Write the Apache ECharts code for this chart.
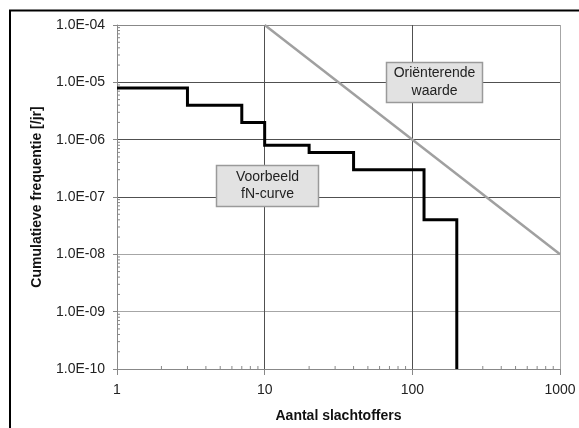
<!DOCTYPE html>
<html>
<head>
<meta charset="utf-8">
<script src="https://cdn.jsdelivr.net/npm/echarts@6/dist/echarts.min.js"></script>
<style>html,body{margin:0;padding:0;background:#fff;}#c{width:579px;height:428px;}</style>
</head>
<body>
<div id="c"></div>
<script>
// Data
var fnCurveX = [1, 3, 7, 10, 20, 40, 120, 200];
var fnCurveY = [8e-6, 4e-6, 2e-6, 8e-7, 6e-7, 3e-7, 4e-8, 1e-10];
var refLineX = [10, 1000];
var refLineY = [1e-4, 1e-8];
var xDecades = [1, 10, 100];
var yDecades = [1e-10, 1e-9, 1e-8, 1e-7, 1e-6, 1e-5];
var minorMultipliers = [2, 3, 4, 5, 6, 7, 8, 9];
var xTitle = 'Aantal slachtoffers';
var yTitle = 'Cumulatieve frequentie [/jr]';
var label1 = 'Voorbeeld\nfN-curve';
var label2 = 'Oriënterende\nwaarde';

var xMinor = [];
xDecades.forEach(function (d) { minorMultipliers.forEach(function (m) { xMinor.push([d * m]); }); });
var yMinor = [];
yDecades.forEach(function (d) { minorMultipliers.forEach(function (m) { yMinor.push([d * m]); }); });

var FONT = 'Liberation Sans, Arial, sans-serif';
var DARK = '#505050', LIGHT = '#a6a6a6';

function fmtY(v) {
  var e = Math.round(Math.log10(v));
  var a = Math.abs(e);
  return '1.0E' + (e < 0 ? '-' : '+') + (a < 10 ? '0' + a : '' + a);
}

var chart = echarts.init(document.getElementById('c'), null, {renderer: 'canvas'});
chart.setOption({
  animation: false,
  backgroundColor: '#fff',
  grid: {left: 117, top: 25, right: 19, bottom: 56, containLabel: false},
  xAxis: {
    type: 'log', logBase: 10, min: 1, max: 1000,
    name: xTitle, nameLocation: 'middle', nameGap: 40,
    nameTextStyle: {fontFamily: FONT, fontSize: 14, fontWeight: 'bold', color: '#111'},
    axisLine: {show: true, lineStyle: {color: '#888', width: 1}},
    axisTick: {show: true, inside: false, length: 6, lineStyle: {color: '#888'}},
    axisLabel: {fontFamily: FONT, fontSize: 14, color: '#222', margin: 14,
      formatter: function (v) { return String(Math.round(v)); }},
    splitLine: {show: true, lineStyle: {color: ['#888', DARK, DARK, LIGHT], width: 1}},
    minorTick: {show: false}
  },
  yAxis: {
    type: 'log', logBase: 10, min: 1e-10, max: 1e-4,
    name: yTitle, nameLocation: 'middle', nameGap: 73,
    nameTextStyle: {fontFamily: FONT, fontSize: 14, fontWeight: 'bold', color: '#111'},
    axisLine: {show: true, lineStyle: {color: '#888', width: 1}},
    axisTick: {show: true, inside: false, length: 4, lineStyle: {color: '#888'}},
    axisLabel: {fontFamily: FONT, fontSize: 14, color: '#222', margin: 12, formatter: fmtY},
    splitLine: {show: true, lineStyle: {color: ['#888', LIGHT, LIGHT, DARK, DARK, DARK, LIGHT], width: 1}}
  },
  series: [
    {
      type: 'custom', name: 'xMinor', silent: true, z: 5,
      data: xMinor,
      renderItem: function (params, api) {
        var p = api.coord([api.value(0), 1e-10]);
        return {type: 'line', shape: {x1: p[0], y1: p[1], x2: p[0], y2: p[1] - 3},
          style: {stroke: '#888', lineWidth: 1}};
      }
    },
    {
      type: 'custom', name: 'yMinor', silent: true, z: 5,
      data: yMinor,
      encode: {x: [], y: 0},
      renderItem: function (params, api) {
        var p = api.coord([1, api.value(0)]);
        return {type: 'line', shape: {x1: p[0], y1: p[1], x2: p[0] + 3, y2: p[1]},
          style: {stroke: '#888', lineWidth: 1}};
      }
    },
    {
      type: 'line', name: 'ref', z: 6,
      data: refLineX.map(function (x, i) { return [x, refLineY[i]]; }),
      symbol: 'none', lineStyle: {color: '#a0a0a0', width: 2.5}
    },
    {
      type: 'line', name: 'fn', z: 7, step: 'end',
      data: fnCurveX.map(function (x, i) { return [x, fnCurveY[i]]; }),
      symbol: 'none', lineStyle: {color: '#000', width: 3, join: 'miter'}
    }
  ],
  graphic: [
    {type: 'rect', shape: {x: 10, y: 10.5, width: 700, height: 600},
      style: {fill: 'none', stroke: '#000', lineWidth: 2}, z: 100},
    {type: 'rect', shape: {x: 216.5, y: 165.5, width: 102, height: 41},
      style: {fill: '#e2e2e2', stroke: '#9a9a9a', lineWidth: 1.5}, z: 100},
    {type: 'text', x: 267.5, y: 186, z: 101,
      style: {text: label1, fontFamily: FONT, fontSize: 14, lineHeight: 17, fill: '#222',
        align: 'center', verticalAlign: 'middle'}},
    {type: 'rect', shape: {x: 386.5, y: 62.5, width: 96, height: 40},
      style: {fill: '#e2e2e2', stroke: '#9a9a9a', lineWidth: 1.5}, z: 100},
    {type: 'text', x: 434.5, y: 82.5, z: 101,
      style: {text: label2, fontFamily: FONT, fontSize: 14, lineHeight: 18, fill: '#222',
        align: 'center', verticalAlign: 'middle'}}
  ]
});
</script>
</body>
</html>
